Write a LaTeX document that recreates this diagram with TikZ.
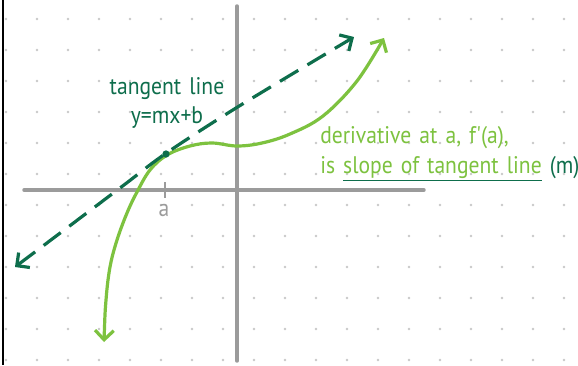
\documentclass[tikz,border=0pt]{standalone}
\usepackage{fontspec}
\usepackage{xcolor}
\usepackage{tikz}
\usetikzlibrary{positioning,calc,arrows.meta}
\newfontfamily\handfont[FakeStretch=0.9,WordSpace=1.4]{PT Sans}
\definecolor{tangentgreen}{HTML}{0E6E4C}
\definecolor{curvegreen}{HTML}{7DC23F}
\definecolor{axisgray}{HTML}{9B9B9B}
\definecolor{dotgray}{HTML}{C8C8C8}
\tikzset{
  % --- paper ---
  griddot/.style={fill=dotgray, draw=none},
  % --- axes ---
  axis/.style={draw=axisgray, line width=2.6pt, line cap=round},
  tickmark/.style={draw=axisgray, line width=1.6pt},
  % --- curves ---
  fcurve/.style={draw=curvegreen, line width=2.4pt, line cap=round,
                 {Straight Barb[length=7pt,width=14pt]}-{Straight Barb[length=7pt,width=14pt]}},
  tanline/.style={draw=tangentgreen, line width=2.4pt,
                  dash pattern=on 16pt off 8pt,
                  {Straight Barb[length=7pt,width=14pt]}-{Straight Barb[length=7pt,width=14pt]}},
  touchdot/.style={circle, fill=tangentgreen, minimum size=5.5pt, inner sep=0pt},
  % --- labels ---
  handlabel/.style={font=\handfont\fontsize{18}{22}\selectfont, inner sep=0pt},
  tanlabel/.style={handlabel, text=tangentgreen, align=center},
  derivlabel/.style={handlabel, text=curvegreen, anchor=base west},
  ticklabel/.style={handlabel, text=axisgray},
}

\begin{document}
\begin{tikzpicture}[x=0.75pt, y=-0.75pt]
  \useasboundingbox (0,0) rectangle (578,365);
  \fill[white] (0,0) rectangle (578,365);

  % --- dotted paper ---
  \foreach \i in {0,...,18}
    \foreach \j in {0,...,11}
      \fill[griddot] (6+31*\i, 19+31*\j) circle (1.1pt);
  \draw[black, line width=1.8pt] (3,0) -- (3,365);

  % --- axes and the tick at a ---
  \draw[axis] (24,190) -- (424,190);
  \draw[axis] (237,6) -- (237,361);
  \draw[tickmark] (165,182) -- (165,198);
  \node[ticklabel] (alabel) at (164,210) {a};

  % --- f(x): hand drawn cubic ---
  \draw[fcurve] plot[smooth, tension=0.6] coordinates {
      (104,342) (106,300) (110,267) (117,240) (127,213) (137,192)
      (150,170) (167,155) (190,146) (212,143) (237,146) (262,143)
      (290,134) (323,116) (357,81) (384,38)};

  % --- tangent line through (a, f(a)) ---
  \draw[tanline] plot[smooth, tension=0.5] coordinates {
      (15,267) (120,188) (165,154) (236,108) (354,37)};
  \node[touchdot] (touch) at (166,154) {};

  % --- labels ---
  \node[tanlabel] (tantext) at (167,103) {tangent line\\y=mx+b};
  \node[derivlabel] (derivA) at (320,143) {derivative at a, f'(a),};
  \node[derivlabel] (derivB) at ([yshift=-22.5pt]derivA.base west)
        {is \textcolor{tangentgreen}{\underline{\textcolor{curvegreen}{slope of tangent line}}}
         \textcolor{tangentgreen}{(m)}};
\end{tikzpicture}
\end{document}
